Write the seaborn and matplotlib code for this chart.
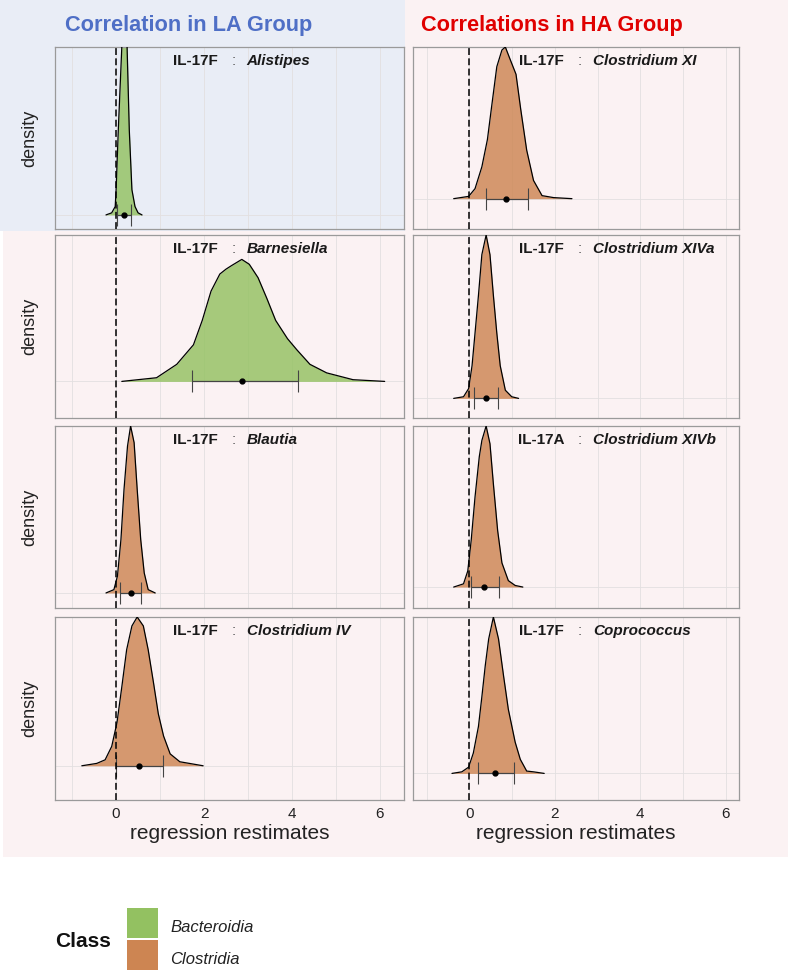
import matplotlib
matplotlib.use("Agg")
import matplotlib.pyplot as plt
import seaborn as sns
from matplotlib.patches import Rectangle

# --- data ---
la_cytokines = ["IL-17F", "IL-17F", "IL-17F", "IL-17F"]
la_genera = ["Alistipes", "Barnesiella", "Blautia", "Clostridium IV"]
la_classes = ["Bacteroidia", "Bacteroidia", "Clostridia", "Clostridia"]

ha_cytokines = ["IL-17F", "IL-17F", "IL-17A", "IL-17F"]
ha_genera = ["Clostridium XI", "Clostridium XIVa", "Clostridium XIVb", "Coprococcus"]
ha_classes = ["Clostridia", "Clostridia", "Clostridia", "Clostridia"]

classes = ["Bacteroidia", "Clostridia"]
class_colors = ["#93c161", "#cd8552"]

# density curves: x = regression estimate, h = density (peak scaled to 1)
alistipes_x = [-0.23, -0.1, -0.02, 0.0, 0.05, 0.13, 0.2, 0.25, 0.3, 0.36, 0.43, 0.5, 0.59]
alistipes_h = [0.0, 0.01, 0.04, 0.12, 0.405, 0.8, 1.0, 0.8, 0.405, 0.12, 0.04, 0.01, 0.0]

barnesiella_x = [0.13, 0.92, 1.38, 1.76, 1.96, 2.16, 2.36, 2.5, 2.63, 2.86, 3.03, 3.23, 3.43,
                 3.63, 3.9, 4.11, 4.41, 4.79, 5.39, 6.11]
barnesiella_h = [0.0, 0.03, 0.14, 0.3, 0.5, 0.74, 0.88, 0.92, 0.95, 1.0, 0.96, 0.85, 0.68,
                 0.5, 0.35, 0.26, 0.14, 0.07, 0.014, 0.0]

blautia_x = [-0.23, -0.05, 0.03, 0.11, 0.18, 0.26, 0.33, 0.41, 0.48, 0.56, 0.64, 0.73, 0.89]
blautia_h = [0.0, 0.02, 0.1, 0.32, 0.62, 0.88, 1.0, 0.9, 0.62, 0.32, 0.12, 0.02, 0.0]

clostridium_iv_x = [-0.78, -0.44, -0.25, -0.1, 0.02, 0.13, 0.24, 0.36, 0.48, 0.62, 0.73,
                    0.85, 0.96, 1.08, 1.23, 1.45, 1.98]
clostridium_iv_h = [0.0, 0.016, 0.04, 0.13, 0.29, 0.53, 0.78, 0.94, 1.0, 0.94, 0.78,
                    0.56, 0.35, 0.2, 0.08, 0.027, 0.0]

clostridium_xi_x = [-0.37, -0.02, 0.13, 0.29, 0.42, 0.52, 0.64, 0.76, 0.84, 0.95, 1.09,
                    1.2, 1.34, 1.5, 1.7, 1.97, 2.4]
clostridium_xi_h = [0.0, 0.015, 0.066, 0.21, 0.39, 0.61, 0.87, 0.98, 1.0, 0.92, 0.82,
                    0.59, 0.32, 0.12, 0.02, 0.007, 0.0]

clostridium_xiva_x = [-0.37, -0.14, -0.02, 0.06, 0.13, 0.21, 0.29, 0.39, 0.48, 0.56, 0.64,
                      0.72, 0.84, 0.99, 1.15]
clostridium_xiva_h = [0.0, 0.01, 0.06, 0.2, 0.4, 0.63, 0.88, 1.0, 0.88, 0.63, 0.4,
                      0.2, 0.05, 0.01, 0.0]

clostridium_xivb_x = [-0.37, -0.14, -0.04, 0.04, 0.13, 0.23, 0.29, 0.39, 0.48, 0.56, 0.66,
                      0.76, 0.91, 1.07, 1.25]
clostridium_xivb_h = [0.0, 0.02, 0.1, 0.29, 0.56, 0.81, 0.91, 1.0, 0.89, 0.64, 0.35,
                      0.15, 0.04, 0.01, 0.0]

coprococcus_x = [-0.41, -0.18, -0.02, 0.09, 0.21, 0.29, 0.37, 0.45, 0.56, 0.68, 0.8,
                 0.91, 1.07, 1.19, 1.34, 1.5, 1.75]
coprococcus_h = [0.0, 0.01, 0.04, 0.13, 0.3, 0.49, 0.69, 0.86, 1.0, 0.86, 0.62,
                 0.41, 0.2, 0.09, 0.015, 0.01, 0.0]

# interval (lower, point estimate, upper)
la_lower = [0.02, 1.72, 0.10, 0.0]
la_point = [0.17, 2.86, 0.33, 0.53]
la_upper = [0.33, 4.14, 0.56, 1.06]
ha_lower = [0.39, 0.11, 0.04, 0.19]
ha_point = [0.86, 0.39, 0.35, 0.59]
ha_upper = [1.36, 0.66, 0.68, 1.05]

la_curves = [(alistipes_x, alistipes_h), (barnesiella_x, barnesiella_h),
             (blautia_x, blautia_h), (clostridium_iv_x, clostridium_iv_h)]
ha_curves = [(clostridium_xi_x, clostridium_xi_h), (clostridium_xiva_x, clostridium_xiva_h),
             (clostridium_xivb_x, clostridium_xivb_h), (coprococcus_x, coprococcus_h)]

# --- layout (pixels of the 792x972 picture) ---
W, H = 792, 972
ROWS = [(47, 229), (235, 418), (426, 608), (617, 800)]
COLS = [(55, 404), (412.7, 739.3)]
XLIMS = [(-1.39, 6.55), (-1.33, 6.32)]
LA_YLIMS = [(-0.067, 0.8), (-0.30, 1.2), (-0.09, 1.0), (-0.23, 1.0)]
HA_YLIMS = [(-0.20, 1.0), (-0.12, 1.0), (-0.13, 1.0), (-0.17, 1.0)]

sns.set_style("white")
plt.rcParams["font.family"] = ["Liberation Sans", "DejaVu Sans"]

fig = plt.figure(figsize=(W / 100, H / 100), dpi=100)


def rect(x0, x1, y0, y1):
    return [x0 / W, 1 - y1 / H, (x1 - x0) / W, (y1 - y0) / H]


# background blocks
fig.patches.append(Rectangle((3 / W, 1 - 857 / H), 785 / W, 857 / H, transform=fig.transFigure,
                             facecolor="#fbf2f3", edgecolor="none", zorder=-2))
fig.patches.append(Rectangle((0, 1 - 231 / H), 405 / W, 231 / H, transform=fig.transFigure,
                             facecolor="#e9edf6", edgecolor="none", zorder=-1))

color_of = dict(zip(classes, class_colors))


def draw_panel(ax, curve, cls, lo, mid, hi, cyto, genus, xlim, ylim, height_px, width_px, bottom):
    xs, hs = curve
    ax.set_facecolor("none")
    ax.fill_between(xs, hs, color=color_of[cls], alpha=0.82, lw=0, zorder=2)
    sns.lineplot(x=xs, y=hs, ax=ax, color="black", lw=0.9, sort=False, estimator=None, zorder=3)
    ax.errorbar(mid, 0, xerr=[[mid - lo], [hi - mid]], fmt="o", color="black", ms=3.5,
                ecolor="#444444", elinewidth=0.9, capsize=8, capthick=0.8, zorder=4)
    ax.axvline(0, color="black", ls=(0, (4.5, 2.2)), lw=1.1, zorder=5)

    ax.set_xlim(*xlim)
    ax.set_ylim(*ylim)
    ax.set_xticks([0, 2, 4, 6])
    ax.set_xticks([-1, 1, 3, 5], minor=True)
    ax.set_yticks([0])
    ax.grid(True, which="both", color="#e3dfe0", lw=0.6, zorder=0)
    ax.set_axisbelow(True)
    ax.tick_params(axis="y", left=False, labelleft=False)
    ax.tick_params(axis="x", which="minor", bottom=False)
    if bottom:
        ax.tick_params(axis="x", which="major", length=3, color="#888888", labelsize=11,
                       labelcolor="#222222", pad=2)
        ax.set_xlabel("regression restimates", fontsize=15, color="#222222", labelpad=2)
    else:
        ax.tick_params(axis="x", which="major", bottom=False, labelbottom=False)
        ax.set_xlabel("")
    ax.set_ylabel("")
    for s in ax.spines.values():
        s.set_color("#9a9a9a")
        s.set_linewidth(0.9)

    # panel title: bold cytokine, grey colon, bold italic genus (baseline 18 px below top)
    ty = 1 - 18 / height_px
    colon = ax.text(0.5 + 4 / width_px, ty, ":", transform=ax.transAxes, ha="center",
                    va="baseline", fontsize=11, color="#555555")
    ax.annotate(cyto, xy=(0, ty), xycoords=(colon, ax.transAxes),
                xytext=(-10, 0), textcoords="offset points", ha="right", va="baseline",
                fontsize=11, fontweight="bold", color="#1a1a1a")
    ax.annotate(genus, xy=(1, ty), xycoords=(colon, ax.transAxes),
                xytext=(8, 0), textcoords="offset points", ha="left", va="baseline",
                fontsize=11, fontweight="bold", fontstyle="italic", color="#1a1a1a")


for i, (y0, y1) in enumerate(ROWS):
    last = i == len(ROWS) - 1
    ax_l = fig.add_axes(rect(COLS[0][0], COLS[0][1], y0, y1))
    draw_panel(ax_l, la_curves[i], la_classes[i], la_lower[i], la_point[i], la_upper[i],
               la_cytokines[i], la_genera[i], XLIMS[0], LA_YLIMS[i], y1 - y0,
               COLS[0][1] - COLS[0][0], last)
    ax_r = fig.add_axes(rect(COLS[1][0], COLS[1][1], y0, y1))
    draw_panel(ax_r, ha_curves[i], ha_classes[i], ha_lower[i], ha_point[i], ha_upper[i],
               ha_cytokines[i], ha_genera[i], XLIMS[1], HA_YLIMS[i], y1 - y0,
               COLS[1][1] - COLS[1][0], last)
    fig.text(30 / W, 1 - (y0 + y1) / 2 / H, "density", rotation=90, ha="center", va="center",
             fontsize=13, color="#222222")

fig.text(65 / W, 1 - 31 / H, "Correlation in LA Group", ha="left", va="baseline",
         fontsize=15.7, fontweight="bold", color="#4f6fc6")
fig.text(421 / W, 1 - 31.5 / H, "Correlations in HA Group", ha="left", va="baseline",
         fontsize=15.7, fontweight="bold", color="#e00000")

# legend: "Class" title to the left of two stacked colour keys
fig.text(55 / W, 1 - 947 / H, "Class", ha="left", va="baseline", fontsize=15,
         fontweight="bold", color="#111111")
for i, (cls, col) in enumerate(zip(classes, class_colors)):
    top = 908 + 32 * i
    fig.patches.append(Rectangle((127 / W, 1 - (top + 30) / H), 31 / W, 30 / H,
                                 transform=fig.transFigure, facecolor=col, edgecolor="none"))
    fig.text(170 / W, 1 - (top + 24) / H, cls, ha="left", va="baseline", fontsize=12,
             fontstyle="italic", color="#222222")

fig.savefig("out.png", dpi=100)
